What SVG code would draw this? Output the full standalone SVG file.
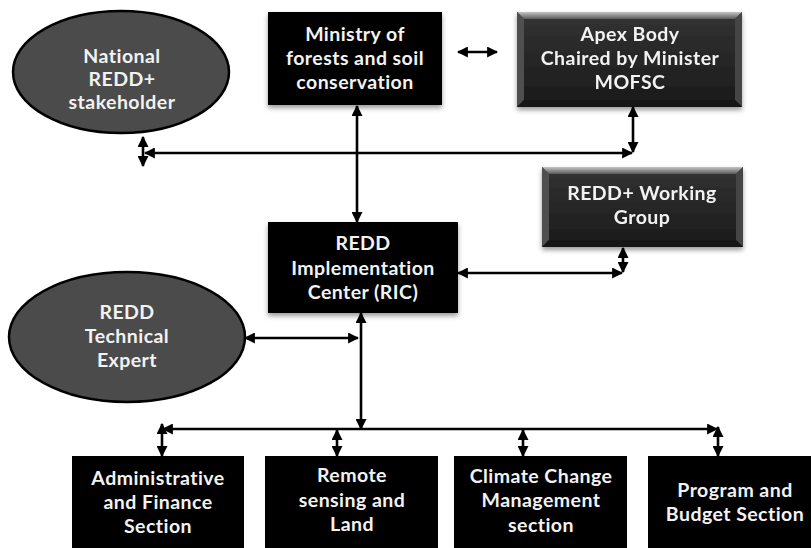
<svg xmlns="http://www.w3.org/2000/svg" width="811" height="548" viewBox="0 0 811 548">
<style>
  .t{font-family:Lato,"Open Sans","Liberation Sans",sans-serif;font-weight:bold;font-size:19.5px;letter-spacing:0.45px;fill:#f2f2f2;text-anchor:middle}
  .box{fill:#000}
  .ell{fill:#4b4b4b;stroke:#000;stroke-width:2.5}
  .c{stroke:#000;stroke-width:2.6;fill:none;marker-start:url(#ah);marker-end:url(#ah)}
</style>
<defs>
  <marker id="ah" viewBox="0 0 10 10" refX="9" refY="5" markerWidth="11" markerHeight="11" markerUnits="userSpaceOnUse" orient="auto-start-reverse">
    <path d="M0,0 L10,5 L0,10 Z" fill="#000"/>
  </marker>
  <linearGradient id="bevTop" x1="0" y1="0" x2="0" y2="1"><stop offset="0" stop-color="#c4c4c4"/><stop offset="1" stop-color="#5a5a5a"/></linearGradient>
  <linearGradient id="inner" x1="0" y1="0" x2="0" y2="1"><stop offset="0" stop-color="#333"/><stop offset="1" stop-color="#1a1a1a"/></linearGradient>
  <filter id="sh" x="-10%" y="-10%" width="120%" height="130%"><feDropShadow dx="0" dy="3" stdDeviation="2.5" flood-color="#000" flood-opacity="0.4"/></filter>
</defs>

<g id="national">
  <ellipse class="ell" cx="121" cy="72" rx="108" ry="61"/>
  <text class="t" x="122" y="63">National</text>
  <text class="t" x="122" y="86">REDD+</text>
  <text class="t" x="122" y="109">stakeholder</text>
</g>

<g id="ministry">
  <rect class="box" x="268" y="12" width="174" height="93" filter="url(#sh)"/>
  <text class="t" x="355" y="41">Ministry of</text>
  <text class="t" x="355" y="65">forests and soil</text>
  <text class="t" x="355" y="89">conservation</text>
</g>

<g id="apex" filter="url(#sh)">
  <rect x="517" y="12" width="225" height="95" fill="url(#inner)"/>
  <polygon points="517,12 742,12 735,19 524,19" fill="url(#bevTop)"/>
  <polygon points="517,12 524,19 524,100 517,107" fill="#505050"/>
  <polygon points="742,12 735,19 735,100 742,107" fill="#444"/>
  <polygon points="517,107 742,107 735,100 524,100" fill="#161616"/>
  <text class="t" x="630" y="41">Apex Body</text>
  <text class="t" x="630" y="65">Chaired by Minister</text>
  <text class="t" x="630" y="89">MOFSC</text>
</g>

<g id="working-group" filter="url(#sh)">
  <rect x="542" y="167" width="201" height="80" fill="url(#inner)"/>
  <polygon points="542,167 743,167 736,174 549,174" fill="url(#bevTop)"/>
  <polygon points="542,167 549,174 549,240 542,247" fill="#505050"/>
  <polygon points="743,167 736,174 736,240 743,247" fill="#444"/>
  <polygon points="542,247 743,247 736,240 549,240" fill="#161616"/>
  <text class="t" x="642" y="200">REDD+ Working</text>
  <text class="t" x="642" y="224">Group</text>
</g>

<g id="ric">
  <rect class="box" x="268" y="222" width="190" height="91" filter="url(#sh)"/>
  <text class="t" x="363" y="250">REDD</text>
  <text class="t" x="363" y="275">Implementation</text>
  <text class="t" x="363" y="299">Center (RIC)</text>
</g>

<g id="technical-expert">
  <ellipse class="ell" cx="127" cy="337" rx="118" ry="65"/>
  <text class="t" x="127" y="319">REDD</text>
  <text class="t" x="127" y="343">Technical</text>
  <text class="t" x="127" y="367">Expert</text>
</g>

<g id="admin">
  <rect class="box" x="72" y="456" width="172" height="100"/>
  <text class="t" x="158" y="485">Administrative</text>
  <text class="t" x="158" y="509">and Finance</text>
  <text class="t" x="158" y="533">Section</text>
</g>

<g id="remote">
  <rect class="box" x="265" y="456" width="173" height="100"/>
  <text class="t" x="352" y="482">Remote</text>
  <text class="t" x="352" y="507">sensing and</text>
  <text class="t" x="352" y="531">Land</text>
</g>

<g id="climate">
  <rect class="box" x="454" y="456" width="173" height="100"/>
  <text class="t" x="541" y="483">Climate Change</text>
  <text class="t" x="541" y="507">Management</text>
  <text class="t" x="541" y="532">section</text>
</g>

<g id="program">
  <rect class="box" x="648" y="456" width="174" height="100"/>
  <text class="t" x="735" y="497">Program and</text>
  <text class="t" x="735" y="521">Budget Section</text>
</g>

<g id="connectors">
  <line class="c" x1="458" y1="52" x2="497" y2="52"/>
  <line class="c" x1="357" y1="106" x2="357" y2="222"/>
  <line class="c" x1="632" y1="153" x2="145" y2="153"/>
  <line class="c" x1="143" y1="137" x2="143" y2="166"/>
  <line class="c" x1="633" y1="107" x2="633" y2="152"/>
  <line class="c" x1="458" y1="273" x2="622" y2="273"/>
  <line class="c" x1="623" y1="248" x2="623" y2="272"/>
  <line class="c" x1="245" y1="338" x2="358" y2="338"/>
  <line class="c" x1="361" y1="313" x2="361" y2="429"/>
  <line class="c" x1="163" y1="429" x2="717" y2="429"/>
  <line class="c" x1="162" y1="424" x2="162" y2="456"/>
  <line class="c" x1="337" y1="430" x2="337" y2="456"/>
  <line class="c" x1="523" y1="430" x2="523" y2="456"/>
  <line class="c" x1="718" y1="427" x2="718" y2="456"/>
</g>
</svg>
